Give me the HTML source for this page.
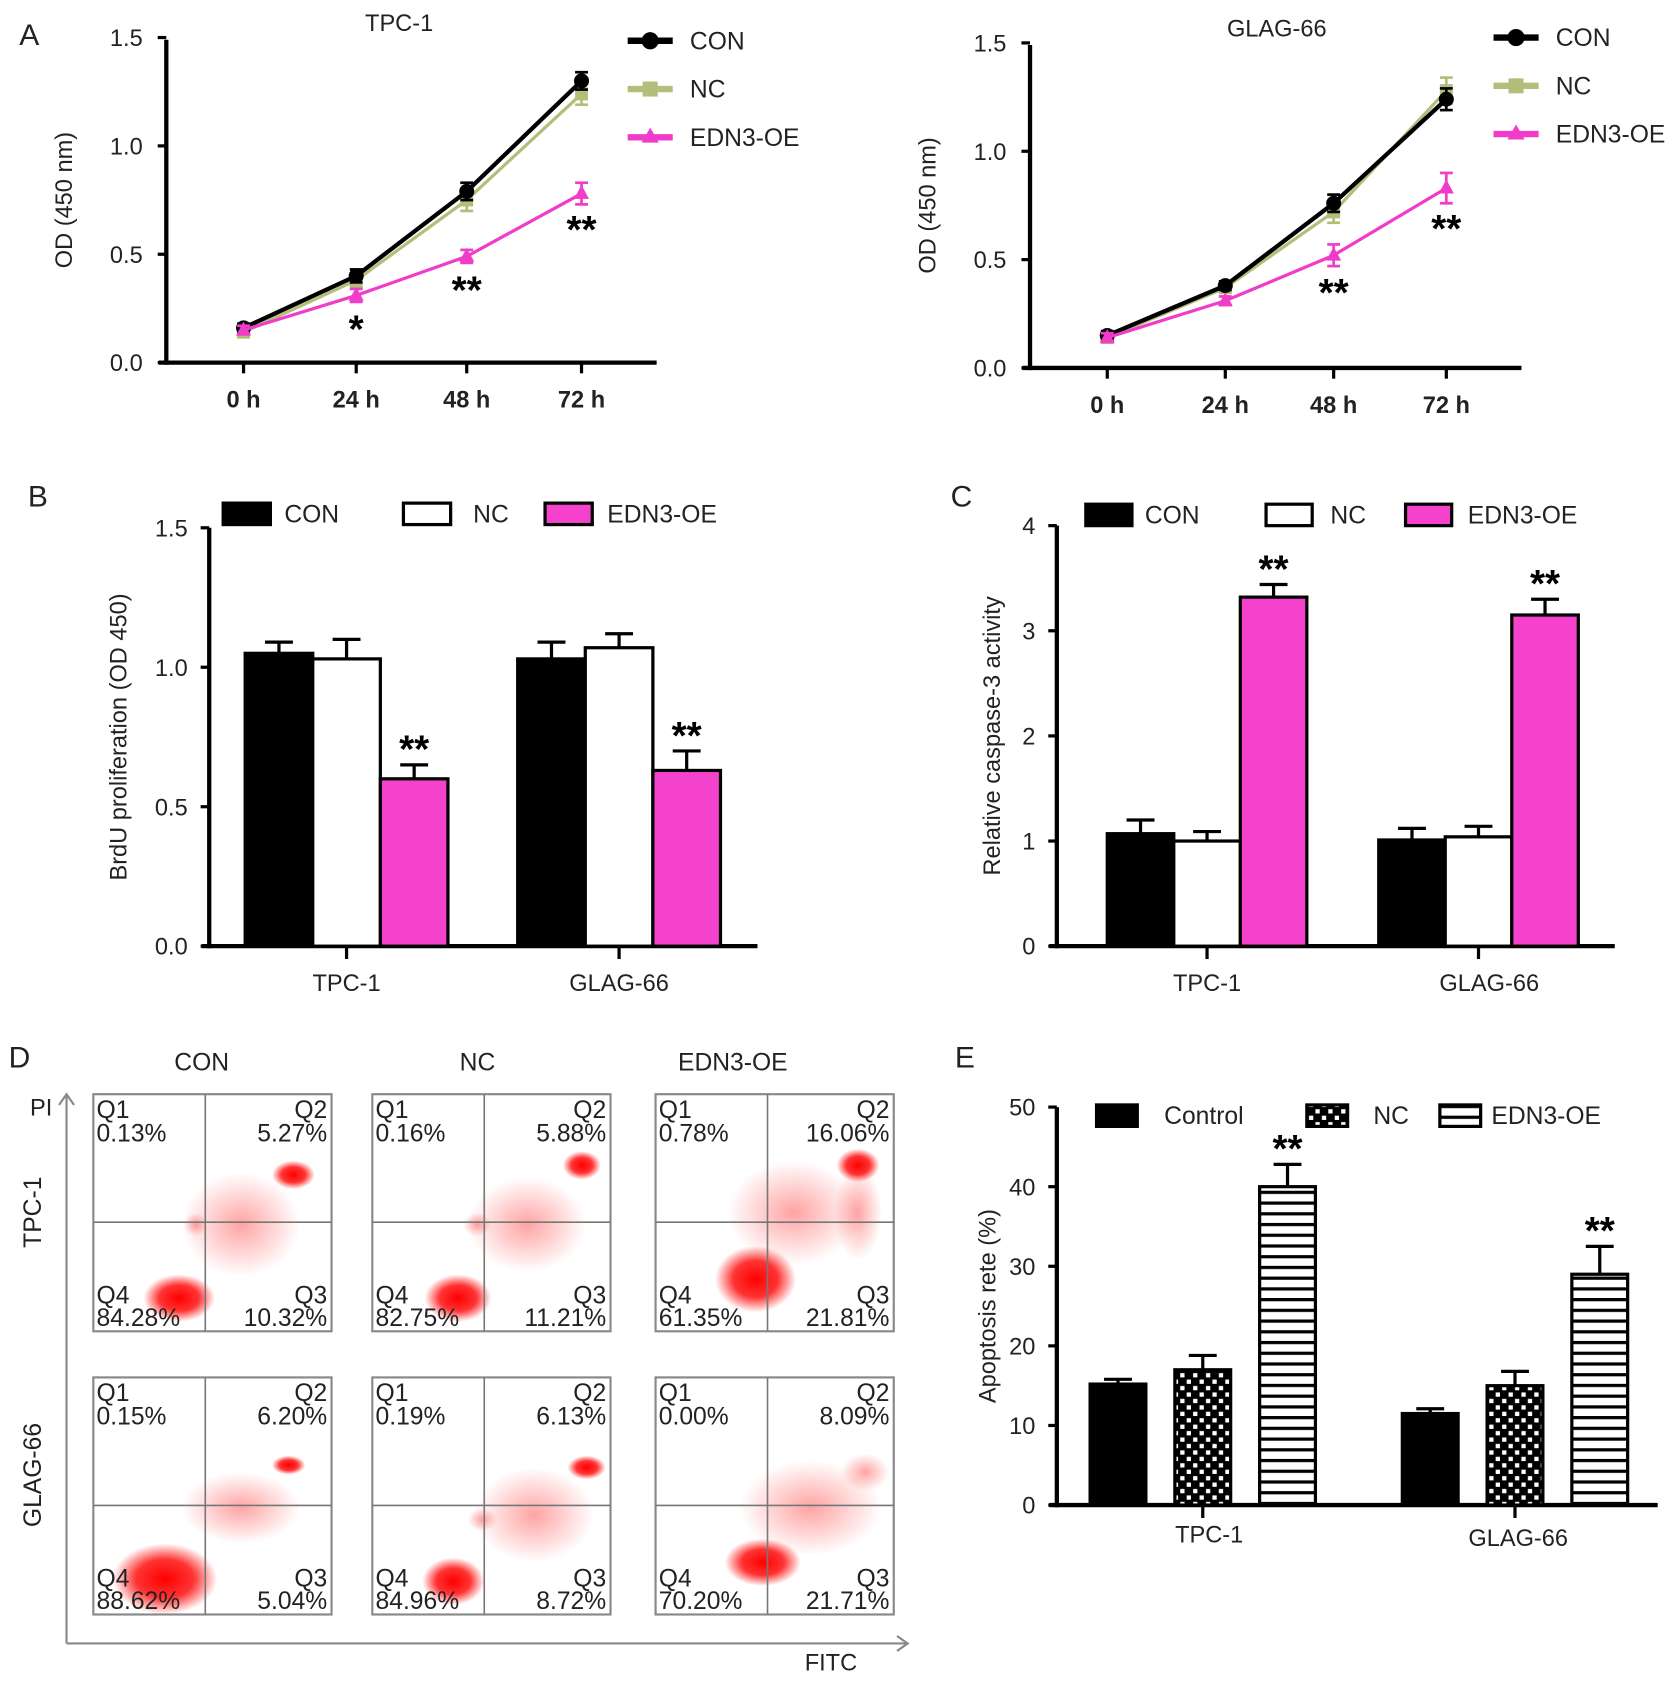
<!DOCTYPE html>
<html><head><meta charset="utf-8">
<style>
html,body{margin:0;padding:0;background:#fff;}
svg{display:block;font-family:"Liberation Sans",Arial,sans-serif;}
</style></head>
<body>
<svg id="fig" width="1677" height="1681" viewBox="0 0 1563 1567" preserveAspectRatio="none" xmlns="http://www.w3.org/2000/svg">
<defs>
<radialGradient id="blob"><stop offset="0" stop-color="#ff0000" stop-opacity="1"/><stop offset="0.55" stop-color="#ff0000" stop-opacity="0.8"/><stop offset="1" stop-color="#ff0000" stop-opacity="0"/></radialGradient>
<radialGradient id="haze"><stop offset="0" stop-color="#f33" stop-opacity="0.45"/><stop offset="1" stop-color="#f33" stop-opacity="0"/></radialGradient>
<pattern id="checker" width="12" height="12" patternUnits="userSpaceOnUse"><rect width="12" height="12" fill="#000"/><rect x="2" y="2" width="4" height="4" fill="#fff"/><rect x="8" y="8" width="4" height="4" fill="#fff"/></pattern>
<pattern id="hstripe" width="10" height="10" patternUnits="userSpaceOnUse"><rect width="10" height="10" fill="#fff"/><rect y="0" width="10" height="3" fill="#000"/></pattern>
</defs>
</svg>
<script>
// ---- Panel A data ----
const timeLabels = ["0 h","24 h","48 h","72 h"];
const aTpcCon = [0.16,0.40,0.79,1.30];
const aTpcNc  = [0.14,0.38,0.75,1.24];
const aTpcOe  = [0.15,0.31,0.49,0.78];
const aTpcConErr = [0.02,0.03,0.04,0.04];
const aTpcNcErr  = [0.02,0.03,0.05,0.05];
const aTpcOeErr  = [0.02,0.03,0.03,0.05];
const aGlaCon = [0.15,0.38,0.76,1.24];
const aGlaNc  = [0.14,0.37,0.72,1.28];
const aGlaOe  = [0.14,0.31,0.52,0.83];
const aGlaConErr = [0.02,0.02,0.04,0.05];
const aGlaNcErr  = [0.02,0.02,0.05,0.06];
const aGlaOeErr  = [0.02,0.02,0.05,0.07];
const aTicks = [0,0.5,1.0,1.5];
const aTickLabels = ["0.0","0.5","1.0","1.5"];
const aTpcStars = ["","*","**","**"];
const aGlaStars = ["","","**","**"];
// ---- Panel B data ----
const groupLabels = ["TPC-1","GLAG-66"];
const bCon = [1.05,1.03], bNc=[1.03,1.07], bOe=[0.60,0.63];
const bConErr=[0.04,0.06], bNcErr=[0.07,0.05], bOeErr=[0.05,0.07];
const bTicks=[0,0.5,1.0,1.5], bTickLabels=["0.0","0.5","1.0","1.5"];
// ---- Panel C data ----
const cCon=[1.07,1.01], cNc=[1.00,1.04], cOe=[3.32,3.15];
const cConErr=[0.13,0.11], cNcErr=[0.09,0.10], cOeErr=[0.12,0.15];
const cTicks=[0,1,2,3,4], cTickLabels=["0","1","2","3","4"];
// ---- Panel E data ----
const eCon=[15.2,11.5], eNc=[17.0,15.0], eOe=[40.0,29.0];
const eConErr=[0.6,0.6], eNcErr=[1.8,1.8], eOeErr=[2.8,3.5];
const eTicks=[0,10,20,30,40,50], eTickLabels=["0","10","20","30","40","50"];
// ---- Panel D data ----
const dCols=["CON","NC","EDN3-OE"];
const dRows=["TPC-1","GLAG-66"];
const dQ1=[["0.13%","0.16%","0.78%"],["0.15%","0.19%","0.00%"]];
const dQ2=[["5.27%","5.88%","16.06%"],["6.20%","6.13%","8.09%"]];
const dQ3=[["10.32%","11.21%","21.81%"],["5.04%","8.72%","21.71%"]];
const dQ4=[["84.28%","82.75%","61.35%"],["88.62%","84.96%","70.20%"]];

const svg=document.getElementById('fig');
const NS="http://www.w3.org/2000/svg";
function mk(tag,attrs,parent,text){const e=document.createElementNS(NS,tag);for(const k in attrs)e.setAttribute(k,attrs[k]);if(text!==undefined)e.textContent=text;(parent||svg).appendChild(e);return e;}
function grp(name,parent){const g=mk('g',{},parent);return g;}
function txt(parent,name,x,y,s,opts){const t=mk('text',Object.assign({x:x,y:y,'font-size':22,fill:'#222'},opts||{}),parent,s);return t;}
function line(parent,x1,y1,x2,y2,w,c){return mk('line',{x1:x1,y1:y1,x2:x2,y2:y2,stroke:c||'#000','stroke-width':w||4},parent);}

function panelLetter(l,x,y){txt(svg,'panel-label-'+l.toLowerCase(),x,y,l,{'font-size':28});}

// ---- Line chart ----
function lineChart(cfg){
  const g=grp(cfg.name);
  const y=v=>cfg.y0+(cfg.y1-cfg.y0)*(v/1.5);
  const xp=i=>cfg.xpos[i];
  line(g,cfg.ax,cfg.y1+2,cfg.ax,cfg.y0+2,4);
  line(g,cfg.ax-7,cfg.y0,cfg.axEnd,cfg.y0,4);
  aTicks.forEach((t,i)=>{line(g,cfg.ax-8,y(t),cfg.ax,y(t),3);txt(g,'y-tick-label',cfg.ax-22,y(t)+8,aTickLabels[i],{'text-anchor':'end','font-size':22});});
  timeLabels.forEach((t,i)=>{line(g,xp(i),cfg.y0,xp(i),cfg.y0+10,3);txt(g,'x-tick-label',xp(i),cfg.y0+42,t,{'text-anchor':'middle','font-size':22,'font-weight':'bold'});});
  txt(g,'chart-title',cfg.titleX,cfg.y1-6,cfg.title,{'text-anchor':'middle','font-size':22});
  txt(g,'y-axis-title',0,0,'OD (450 nm)',{'text-anchor':'middle','font-size':22,transform:`translate(${cfg.ax-88},${(cfg.y0+cfg.y1)/2}) rotate(-90)`});
  const series=[[cfg.nc,cfg.ncE,'#b5bd7a','nc',3],[cfg.con,cfg.conE,'#000','con',4],[cfg.oe,cfg.oeE,'#f03cc8','edn3-oe',3]];
  series.forEach(s=>{
    const sg=grp('series-'+s[3],g);
    mk('polyline',{points:s[0].map((v,i)=>xp(i)+','+y(v)).join(' '),fill:'none',stroke:s[2],'stroke-width':s[4]},sg);
    s[0].forEach((v,i)=>{
      const e=s[1][i];line(sg,xp(i),y(v-e),xp(i),y(v+e),2.5,s[2]);line(sg,xp(i)-6,y(v+e),xp(i)+6,y(v+e),2.5,s[2]);line(sg,xp(i)-6,y(v-e),xp(i)+6,y(v-e),2.5,s[2]);
      let m;
      if(s[3]==='con') m=mk('circle',{cx:xp(i),cy:y(v),r:7,fill:'#000'},sg);
      else if(s[3]==='nc') m=mk('rect',{x:xp(i)-6,y:y(v)-6,width:12,height:12,fill:s[2]},sg);
      else m=mk('polygon',{points:`${xp(i)},${y(v)-8} ${xp(i)-7},${y(v)+5} ${xp(i)+7},${y(v)+5}`,fill:s[2]},sg);
      
      
    });
  });
  cfg.stars.forEach((s,i)=>{if(s){txt(g,'significance-star',xp(i),y(cfg.oe[i]-cfg.oeE[i])+cfg.starOff[i],s,{'text-anchor':'middle','font-size':36,'font-weight':'bold',fill:'#000'});}});
  const lg=grp('legend',g);
  const items=[['CON','#000','c'],['NC','#b5bd7a','s'],['EDN3-OE','#f03cc8','t']];
  items.forEach((it,k)=>{const ly=cfg.legY+k*45;const eg=grp('legend-entry-'+it[0].toLowerCase(),lg);
    line(eg,cfg.legX,ly,cfg.legX+42,ly,6,it[1]);
    if(it[2]==='c')mk('circle',{cx:cfg.legX+21,cy:ly,r:8,fill:it[1]},eg);
    if(it[2]==='s')mk('rect',{x:cfg.legX+14,y:ly-7,width:14,height:14,fill:it[1]},eg);
    if(it[2]==='t')mk('polygon',{points:`${cfg.legX+21},${ly-9} ${cfg.legX+13},${ly+5} ${cfg.legX+29},${ly+5}`,fill:it[1]},eg);
    txt(eg,'legend-label',cfg.legX+58,ly+8,it[0],{'font-size':23});});
}
panelLetter('A',18,42);
lineChart({name:'chart-a-tpc1',ax:155,axEnd:612,y0:338,y1:35,xpos:[227,332,435,542],title:'TPC-1',titleX:372,
  con:aTpcCon,nc:aTpcNc,oe:aTpcOe,conE:aTpcConErr,ncE:aTpcNcErr,oeE:aTpcOeErr,stars:aTpcStars,starOff:[0,38,38,36],legX:585,legY:38});
lineChart({name:'chart-a-glag66',ax:960,axEnd:1418,y0:343,y1:40,xpos:[1032,1142,1243,1348],title:'GLAG-66',titleX:1190,
  con:aGlaCon,nc:aGlaNc,oe:aGlaOe,conE:aGlaConErr,ncE:aGlaNcErr,oeE:aGlaOeErr,stars:aGlaStars,starOff:[0,0,37,36],legX:1392,legY:35});

// ---- Bar charts ----
function barChart(cfg){
  const g=grp(cfg.name);
  const y=v=>cfg.y0-(cfg.y0-cfg.y1)*(v/cfg.max);
  line(g,cfg.ax,cfg.y1,cfg.ax,cfg.y0+2,4);
  line(g,cfg.ax-7,cfg.y0,cfg.axEnd,cfg.y0,4);
  cfg.ticks.forEach((t,i)=>{line(g,cfg.ax-8,y(t),cfg.ax,y(t),3);txt(g,'y-tick-label',cfg.ax-20,y(t)+8,cfg.tickLabels[i],{'text-anchor':'end','font-size':22});});
  txt(g,'y-axis-title',0,0,cfg.ytitle,{'text-anchor':'middle','font-size':22,transform:`translate(${cfg.ylx},${(cfg.y0+cfg.y1)/2+cfg.yly}) rotate(-90)`});
  const series=[[cfg.con,cfg.conE,cfg.fills[0],'con'],[cfg.nc,cfg.ncE,cfg.fills[1],'nc'],[cfg.oe,cfg.oeE,cfg.fills[2],'edn3-oe']];
  groupLabels.forEach((gl,gi)=>{
    const c=cfg.centers[gi];
    line(g,c,cfg.y0,c,cfg.y0+12,3);
    txt(g,'x-tick-label',c+cfg.labDx[gi],cfg.y0+cfg.labDy[gi],gl,{'text-anchor':'middle','font-size':22});
    series.forEach((s,si)=>{
      const x0=c+(si-1.5)*cfg.bw+ (si-1)*cfg.gap;
      const v=s[0][gi],e=s[1][gi];
      line(g,x0+cfg.bw/2,y(v),x0+cfg.bw/2,y(v+e),3);line(g,x0+cfg.bw/2-13,y(v+e),x0+cfg.bw/2+13,y(v+e),3);
      const r=mk('rect',{x:x0,y:y(v),width:cfg.bw,height:cfg.y0-y(v),fill:s[2],stroke:'#000','stroke-width':3},g);
      
      
      if(si===2)txt(g,'significance-star',x0+cfg.bw/2,y(v+e)-2,'**',{'text-anchor':'middle','font-size':36,'font-weight':'bold',fill:'#000'});
    });
  });
  const lg=grp('legend',g);
  cfg.leg.forEach((l,k)=>{const eg=grp('legend-entry-'+l[0].toLowerCase(),lg);
    mk('rect',{x:l[1],y:cfg.legY-10,width:cfg.legW,height:20,fill:cfg.fills[k],stroke:'#000','stroke-width':3},eg);
    txt(eg,'legend-label',l[2],cfg.legY+8,l[0],{'font-size':23});});
}
panelLetter('B',26,472);
barChart({name:'chart-b-brdu',ax:195,axEnd:706,y0:882,y1:492,max:1.5,ticks:bTicks,tickLabels:bTickLabels,
  con:bCon,nc:bNc,oe:bOe,conE:bConErr,ncE:bNcErr,oeE:bOeErr,centers:[323,577],bw:63,gap:0,labDx:[0,0],labDy:[42,42],
  fills:['#000','#fff','#f542cc'],ytitle:'BrdU proliferation (OD 450)',ylx:118,yly:0,
  leg:[['CON',208,265],['NC',376,441],['EDN3-OE',508,566]],legY:479,legW:44});
panelLetter('C',886,472);
barChart({name:'chart-c-caspase',ax:985,axEnd:1505,y0:882,y1:490,max:4,ticks:cTicks,tickLabels:cTickLabels,
  con:cCon,nc:cNc,oe:cOe,conE:cConErr,ncE:cNcErr,oeE:cOeErr,centers:[1125,1378],bw:62,gap:0,labDx:[0,10],labDy:[42,42],
  fills:['#000','#fff','#f542cc'],ytitle:'Relative caspase-3 activity',ylx:932,yly:0,
  leg:[['CON',1012,1067],['NC',1180,1240],['EDN3-OE',1310,1368]],legY:480,legW:43});
panelLetter('E',890,995);
barChart({name:'chart-e-apoptosis',ax:985,axEnd:1545,y0:1403,y1:1032,max:50,ticks:eTicks,tickLabels:eTickLabels,
  con:eCon,nc:eNc,oe:eOe,conE:eConErr,ncE:eNcErr,oeE:eOeErr,centers:[1121,1412],bw:52,gap:27,labDx:[6,3],labDy:[35,38],
  fills:['#000','url(#checker)','url(#hstripe)'],ytitle:'Apoptosis rete (%)',ylx:928,yly:0,
  leg:[['Control',1022,1085],['NC',1218,1280],['EDN3-OE',1342,1390]],legY:1040,legW:38});

// ---- Panel D flow cytometry ----
panelLetter('D',8,995);
const dg=grp('flow-cytometry-panel');
const colX=[87,347,611], rowY=[1020,1284], pw=222, ph=221;
const qx=0.47, qy=0.54;
dCols.forEach((c,i)=>txt(dg,'column-title',[188,445,683][i],998,c,{'text-anchor':'middle','font-size':23}));
dRows.forEach((r,i)=>txt(dg,'row-title',0,0,r,{'text-anchor':'middle','font-size':23,transform:`translate(38,${[1130,1375][i]}) rotate(-90)`}));
const blobs=[
 [[[0.36,0.86,0.15,0.1,'blob'],[0.43,0.55,0.05,0.05,'haze'],[0.62,0.55,0.25,0.22,'haze'],[0.84,0.34,0.09,0.06,'blob']],
  [[0.36,0.86,0.14,0.1,'blob'],[0.44,0.55,0.06,0.05,'haze'],[0.65,0.55,0.25,0.2,'haze'],[0.88,0.3,0.08,0.06,'blob']],
  [[0.42,0.78,0.17,0.14,'blob'],[0.58,0.5,0.28,0.22,'haze'],[0.85,0.5,0.1,0.2,'haze'],[0.85,0.3,0.09,0.07,'blob']]],
 [[[0.3,0.85,0.22,0.15,'blob'],[0.62,0.55,0.25,0.15,'haze'],[0.82,0.37,0.07,0.04,'blob']],
  [[0.34,0.86,0.13,0.1,'blob'],[0.46,0.6,0.06,0.05,'haze'],[0.68,0.58,0.25,0.2,'haze'],[0.9,0.38,0.08,0.05,'blob']],
  [[0.45,0.78,0.16,0.1,'blob'],[0.65,0.55,0.3,0.2,'haze'],[0.88,0.4,0.1,0.08,'haze']]]];
dRows.forEach((r,ri)=>dCols.forEach((c,ci)=>{
  const x0=colX[ci],y0=rowY[ri];
  const pg=grp('scatter-plot-'+r.toLowerCase()+'-'+c.toLowerCase(),dg);
  blobs[ri][ci].forEach(b=>mk('ellipse',{cx:x0+b[0]*pw,cy:y0+b[1]*ph,rx:b[2]*pw,ry:b[3]*ph,fill:'url(#'+b[4]+')'},pg));
  mk('rect',{x:x0,y:y0,width:pw,height:ph,fill:'none',stroke:'#888','stroke-width':2},pg);
  line(pg,x0+qx*pw,y0,x0+qx*pw,y0+ph,1.5,'#777');
  line(pg,x0,y0+qy*ph,x0+pw,y0+qy*ph,1.5,'#777');
  const o={'font-size':23,fill:'#222'};
  txt(pg,'q1-label',x0+3,y0+22,'Q1',o);txt(pg,'q1-value',x0+3,y0+44,dQ1[ri][ci],o);
  txt(pg,'q2-label',x0+pw-4,y0+22,'Q2',Object.assign({'text-anchor':'end'},o));txt(pg,'q2-value',x0+pw-4,y0+44,dQ2[ri][ci],Object.assign({'text-anchor':'end'},o));
  txt(pg,'q4-label',x0+3,y0+ph-26,'Q4',o);txt(pg,'q4-value',x0+3,y0+ph-5,dQ4[ri][ci],o);
  txt(pg,'q3-label',x0+pw-4,y0+ph-26,'Q3',Object.assign({'text-anchor':'end'},o));txt(pg,'q3-value',x0+pw-4,y0+ph-5,dQ3[ri][ci],Object.assign({'text-anchor':'end'},o));
}));
line(dg,62,1532,62,1022,2,'#888');
mk('polyline',{points:'55,1030 62,1020 69,1030',fill:'none',stroke:'#888','stroke-width':2},dg);
line(dg,62,1532,845,1532,2,'#888');
mk('polyline',{points:'836,1525 846,1532 836,1539',fill:'none',stroke:'#888','stroke-width':2},dg);
txt(dg,'y-axis-title-pi',28,1040,'PI',{'font-size':22});
txt(dg,'x-axis-title-fitc',750,1557,'FITC',{'font-size':22});
</script>
</body></html>
